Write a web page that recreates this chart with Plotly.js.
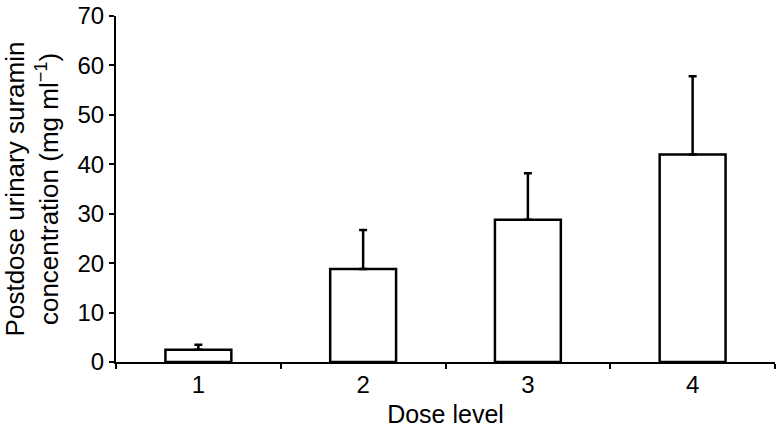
<!DOCTYPE html>
<html>
<head>
<meta charset="utf-8">
<script src="https://cdn.plot.ly/plotly-3.0.1.min.js"></script>
<style>html,body{margin:0;padding:0;background:#fff;}#chart{width:776px;height:430px;}</style>
</head>
<body>
<div id="chart"></div>
<script>
const categories = ['1', '2', '3', '4'];
const meanValues = [2.5, 18.8, 28.8, 42.0];
const errorPlus = [1.0, 7.9, 9.4, 15.8];
const yTickVals = [0, 10, 20, 30, 40, 50, 60, 70];

const trace = {
  type: 'bar',
  x: categories,
  y: meanValues,
  width: 0.4,
  marker: {color: '#ffffff', line: {color: '#000000', width: 2.5}},
  error_y: {type: 'data', symmetric: false, array: errorPlus, arrayminus: [0,0,0,0], color: '#000000', thickness: 2.5, width: 4},
  hoverinfo: 'none'
};

const font = {family: 'Liberation Sans, Arial, sans-serif', size: 24, color: '#000'};
const xTitleFont = {family: 'Liberation Sans, Arial, sans-serif', size: 25, color: '#000'};
const yTitleFont = {family: 'Liberation Sans, Arial, sans-serif', size: 26, color: '#000'};

const layout = {
  width: 776, height: 430,
  margin: {l: 116, r: 1, t: 16, b: 68},
  paper_bgcolor: '#fff', plot_bgcolor: '#fff',
  font: font,
  showlegend: false,
  xaxis: {
    type: 'category',
    range: [-0.5, 3.5],
    automargin: false,
    showline: true, linecolor: '#000', linewidth: 2,
    ticks: 'outside', tickson: 'boundaries', ticklen: 5, tickwidth: 2, tickcolor: '#000',
    showgrid: false, zeroline: false,
    tickfont: font,
    title: {text: 'Dose level', font: xTitleFont, standoff: 9}
  },
  yaxis: {
    range: [0, 70],
    tickvals: yTickVals,
    automargin: false,
    showline: true, linecolor: '#000', linewidth: 2,
    ticks: 'outside', ticklen: 5, tickwidth: 2, tickcolor: '#000',
    showgrid: false, zeroline: false,
    tickfont: font,
    title: {text: 'Postdose urinary suramin<br>concentration (mg ml<sup>−1</sup>)', font: yTitleFont, standoff: 12}
  }
};

Plotly.newPlot('chart', [trace], layout, {staticPlot: true, displayModeBar: false});
</script>
</body>
</html>
